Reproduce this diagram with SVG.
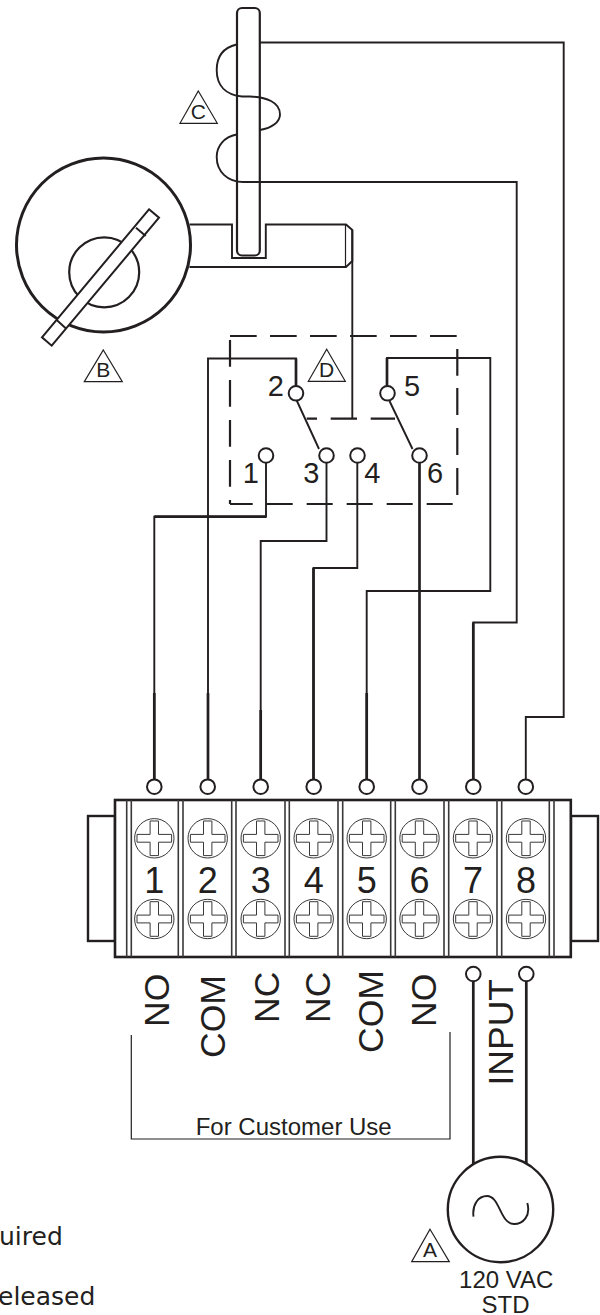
<svg xmlns="http://www.w3.org/2000/svg" width="600" height="1315" viewBox="0 0 600 1315">
<style>
.w{fill:none;stroke:#231f20;stroke-width:1.9}
.t{fill:none;stroke:#231f20;stroke-width:2.7}
.n{fill:none;stroke:#231f20;stroke-width:1.2}
.s{fill:#fff;stroke:#231f20;stroke-width:2}
.d{fill:none;stroke:#231f20;stroke-width:2.2}
.f{font-family:"Liberation Sans",Arial,sans-serif;fill:#231f20}
.v{font-family:"DejaVu Sans",Verdana,sans-serif;fill:#231f20;font-size:25px}
.m{text-anchor:middle}
.num{font-size:36px;text-anchor:middle}
.sw{font-size:29px;text-anchor:middle}
.tri{font-size:21px;text-anchor:middle}
.rot{font-size:35.5px}
.div{fill:none;stroke:#3a3839;stroke-width:1.6}
</style>
<defs>
<g id="screw"><circle r="19.7" fill="#fff" stroke="#231f20" stroke-width="0.9"/><path d="M-4.2 -17.3H4.2V-3.9H17.3V3.9H4.2V17.3H-4.2V3.9H-17.3V-3.9H-4.2Z" fill="#fff" stroke="#3a3839" stroke-width="1"/></g>
<circle id="term" r="7.3" class="s"/>
</defs>

<g id="connectors">
<path class="w" d="M259 42.5H563.7V717H525.8V780"/>
<path class="w" d="M243 182H516.7V622.5H473.3V780"/>
<path class="t" d="M473.3 622.5V780"/>
<path class="t" d="M419.5 455V780"/>
<path class="w" d="M387 393V358H490.3V591H366.7V780"/>
<path class="t" d="M387 386V358M366.7 693V780"/>
<path class="w" d="M357.3 455V568H313.5V780"/>
<path class="t" d="M313.5 568V780"/>
<path class="w" d="M326.5 455V541H260.7V780"/>
<path class="t" d="M260.7 710V780"/>
<path class="w" d="M266 455V516.7H154.3V780"/>
<path class="t" d="M154.3 693V780M266 516.7H154.3"/>
<path class="w" d="M296 393V358.5H208V780"/>
<path class="t" d="M296 386V358.5M208 693V780"/>
<path class="t" d="M473.3 980V1166M526.3 980V1164"/>
<path class="w" d="M352.3 230V419"/>
</g>

<g id="node-c">
<rect x="237" y="8" width="22.8" height="247.5" rx="5" fill="none" stroke="#231f20" stroke-width="2.2"/>
<path class="w" d="M236.5 44.5C222 48 216.7 58 216.7 70C216.7 86 226 95 242 96.5L250 96.5C266 97 280 102 280 114.5C280 122 272 128 260 130"/>
<path class="w" d="M236.5 134.5C224 137 216.7 146 216.7 157C216.7 172 228 182 243 182"/>
<path class="n" d="M198.3 91L217.3 123.3H180Z"/>
<text class="f tri" x="198.3" y="119.3">C</text>
</g>

<g id="node-arm">
<path class="w" d="M189.5 224.5H232V258H265.8V224.5H346L352.3 230V261L346 267H189.5"/>
<path class="n" d="M345.5 224.5V267" stroke-width="1.6"/>
</g>

<g id="node-b">
<circle cx="103.5" cy="245" r="87" fill="#fff" stroke="#231f20" stroke-width="3"/>
<circle cx="104.2" cy="272.3" r="35" fill="#fff" stroke="#231f20" stroke-width="2.2"/>
<path class="s" d="M149 209.3L159 217.7L51.7 345.7L42 337.3Z"/>
<path class="w" d="M136 227.7L145.7 236M56.7 320L65.7 328.3"/>
<path class="n" d="M103.3 350L122.3 381.7H84.3Z"/>
<text class="f tri" x="103.3" y="377.3">B</text>
</g>

<g id="node-d">
<path class="d" d="M230 336H256.7M270 336H296.7M310 336H336.7M350 336H376.7M390 336H416.7M430 336H456.7"/>
<path class="d" d="M230 340V366.7M230 380V406.7M230 420V446.7M230 460V486.7M230 500V504"/>
<path class="d" d="M230 504H252.7M266.7 504H292.7M306.7 504H332.7M346.7 504H372.7M386.7 504H412.7M426.7 504H452.7"/>
<path class="d" d="M457.3 349V375.7M457.3 388V415M457.3 428V455M457.3 468V495"/>
<path class="d" d="M306.7 418.7H317M330.7 418.7H357M370.7 418.7H395"/>
<path class="w" d="M296.5 400L319 449M389.5 401L412.5 449" stroke-width="2.2"/>
<use href="#term" x="296" y="393.3"/>
<use href="#term" x="387.5" y="393.3"/>
<use href="#term" x="266" y="455.5"/>
<use href="#term" x="326.5" y="455.5"/>
<use href="#term" x="357.5" y="455.5"/>
<use href="#term" x="419.5" y="455.5"/>
<text class="f sw" x="275.7" y="396">2</text>
<text class="f sw" x="412" y="396">5</text>
<text class="f sw" x="250.7" y="483.3">1</text>
<text class="f sw" x="311.3" y="483.3">3</text>
<text class="f sw" x="372.3" y="483.3">4</text>
<text class="f sw" x="435" y="483.3">6</text>
<path class="n" d="M326.7 349.3L345.3 381.3H308.3Z"/>
<text class="f tri" x="326.7" y="377.3">D</text>
</g>

<g id="node-terminal-block">
<rect x="88" y="816" width="27" height="125" fill="#fff" stroke="#231f20" stroke-width="2.4"/>
<rect x="571" y="816" width="27" height="125" fill="#fff" stroke="#231f20" stroke-width="2.4"/>
<rect x="115" y="800" width="455.8" height="157" fill="#fff" stroke="#231f20" stroke-width="2.6"/>
<path class="div" d="M126.7 800V957M131.3 800V957M178.3 800V957M183 800V957M231.7 800V957M236 800V957M285 800V957M289.3 800V957M338 800V957M342.7 800V957M390.7 800V957M395.3 800V957M444 800V957M448.7 800V957M497 800V957M501.7 800V957M549.3 800V957M554 800V957"/>
<use href="#screw" x="154.3" y="838.3"/><use href="#screw" x="154.3" y="919"/>
<use href="#screw" x="207.7" y="838.3"/><use href="#screw" x="207.7" y="919"/>
<use href="#screw" x="260.7" y="838.3"/><use href="#screw" x="260.7" y="919"/>
<use href="#screw" x="313.7" y="838.3"/><use href="#screw" x="313.7" y="919"/>
<use href="#screw" x="366.7" y="838.3"/><use href="#screw" x="366.7" y="919"/>
<use href="#screw" x="419.5" y="838.3"/><use href="#screw" x="419.5" y="919"/>
<use href="#screw" x="473" y="838.3"/><use href="#screw" x="473" y="919"/>
<use href="#screw" x="526" y="838.3"/><use href="#screw" x="526" y="919"/>
<text class="f num" x="154.3" y="892.7">1</text>
<text class="f num" x="207.7" y="892.7">2</text>
<text class="f num" x="260.7" y="892.7">3</text>
<text class="f num" x="313.7" y="892.7">4</text>
<text class="f num" x="366.7" y="892.7">5</text>
<text class="f num" x="419.5" y="892.7">6</text>
<text class="f num" x="473" y="892.7">7</text>
<text class="f num" x="526" y="892.7">8</text>
<use href="#term" x="154.3" y="786.7"/><use href="#term" x="207.7" y="786.7"/>
<use href="#term" x="260.7" y="786.7"/><use href="#term" x="313.7" y="786.7"/>
<use href="#term" x="366.7" y="786.7"/><use href="#term" x="419.5" y="786.7"/>
<use href="#term" x="473.3" y="786.7"/><use href="#term" x="525.8" y="786.7"/>
<use href="#term" x="473.3" y="974"/><use href="#term" x="526.3" y="974"/>
</g>

<g id="labels">
<text class="f rot" transform="translate(169 1027) rotate(-90)">NO</text>
<text class="f rot" transform="translate(225.3 1058) rotate(-90)">COM</text>
<text class="f rot" transform="translate(279 1023) rotate(-90)">NC</text>
<text class="f rot" transform="translate(330 1023) rotate(-90)">NC</text>
<text class="f rot" transform="translate(383.3 1053) rotate(-90)">COM</text>
<text class="f rot" transform="translate(435.7 1027) rotate(-90)">NO</text>
<text class="f rot" transform="translate(513.3 1085.5) rotate(-90)">INPUT</text>
</g>

<g id="node-customer-use">
<path class="n" d="M131.3 1035V1139H450V1032"/>
<text class="f m" x="293.7" y="1135" font-size="24">For Customer Use</text>
</g>

<g id="node-a">
<circle cx="500.5" cy="1209.5" r="52.7" fill="#fff" stroke="#231f20" stroke-width="2.4"/>
<path class="w" stroke-width="2.4" d="M473.5 1216.7C472 1205 478 1196 487 1196C500 1196 500 1224 514 1224C523 1224 531 1216 527.3 1203"/>
<path class="n" d="M430 1229.3L449.3 1261.7H411.7Z"/>
<text class="f tri" x="430" y="1256.7">A</text>
<text class="f m" x="506.2" y="1287.7" font-size="24">120 VAC</text>
<text class="f m" x="505.5" y="1313.3" font-size="24">STD</text>
</g>

<g id="notes">
<text class="v" x="-1" y="1244.5">uired</text>
<text class="v" x="-2" y="1305">eleased</text>
</g>
</svg>
